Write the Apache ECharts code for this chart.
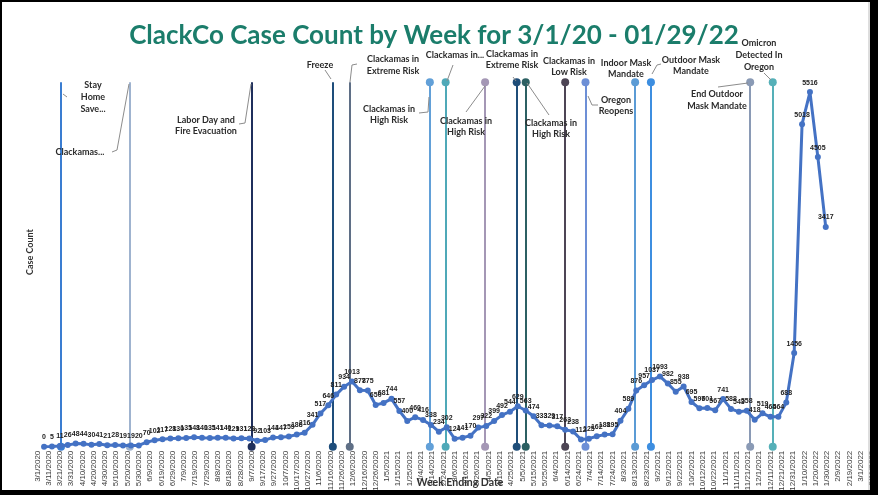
<!DOCTYPE html>
<html><head><meta charset="utf-8">
<script src="https://cdn.jsdelivr.net/npm/echarts@6/dist/echarts.min.js"></script>
<style>html,body{margin:0;padding:0;background:#fff}#c{width:878px;height:495px}</style>
</head><body><div id="c"></div><script>
// ---------- data ----------
const axisStart = '2020-03-01';
const axisEnd = '2022-03-11';
const tickDays = 10;
const firstWeekEnding = '2020-03-07';
const caseCounts = [
  0, 5, 11, 26, 48, 44, 30, 41, 21, 28,
  19, 19, 20, 70, 102, 117, 128, 130, 135, 148,
  140, 135, 141, 140, 129, 131, 128, 92, 103, 144,
  147, 159, 188, 216, 341, 517, 646, 811, 934, 1013,
  877, 875, 650, 681, 744, 557, 400, 460, 416, 338,
  234, 302, 124, 141, 170, 297, 322, 399, 492, 544,
  629, 563, 474, 333, 329, 317, 263, 238, 112, 125,
  162, 188, 195, 404, 589, 876, 957, 1037, 1093, 982,
  855, 938, 695, 597, 601, 567, 741, 588, 543, 558,
  418, 519, 465, 464, 688, 1456, 5018, 5516, 4505, 3417
];
const eventDates = ['2020-03-22','2020-05-22','2020-09-07','2020-11-18','2020-12-03','2021-02-12','2021-02-26','2021-04-02','2021-04-30','2021-05-08','2021-06-12','2021-06-30','2021-08-13','2021-08-27','2021-11-23','2021-12-13'];
const eventNames = ['Stay\nHome\nSave...','Clackamas...','Labor Day and\nFire Evacuation','Freeze','Clackamas in\nExtreme Risk','Clackamas in\nHigh Risk','Clackamas in...','Clackamas in\nHigh Risk','Clackamas in\nExtreme Risk','Clackamas in\nHigh Risk','Clackamas in\nLow Risk','Oregon\nReopens','Indoor Mask\nMandate','Outdoor Mask\nMandate','End Outdoor\nMask Mandate','Omicron\nDetected In\nOregon'];
const eventLineTop = 5670;
const yMax = 6000;

// ---------- styles ----------
const eventColors = ['#3a7dd1','#9fb3cf','#1f2f5c','#1e4d7b','#5f6f86','#62a0d8','#4fa9b8','#a497b5','#1f4e79','#2c6063','#4d4555','#6d8fd6','#5b9bd5','#3d8ee0','#8a9ab5','#55b0b8'];
const eventTopDot = [false,false,false,false,false,true,true,true,true,true,true,true,true,true,true,true];
// annotation placement: [centerX, centerY, lineHeight]
const notePos = [[93,97,12],[80,152,11],[206,125.5,11],[320,65,11],[393,65,11.5],[389,114.7,11],[455,55,11],[466,126.7,11],[512,60,11],[551,128.7,11],[569,66.7,11.5],[616,105.3,11],[626,68.8,11],[691,65.8,11.5],[717,100,12],[759,55,11.7]];
const leaders = [
  [[63,94],[67,97]],
  [[112,152],[117,150],[129,84]],
  [[239,124],[245,123],[251,84]],
  [[325,70],[331,79]],
  [[350,82],[352,65],[357,64]],
  [[419,113],[428,112],[429,97]],
  [[453,65],[447,81]],
  [[466,112],[485,86]],
  [[513,77],[516,81]],
  [[527,83],[549,115]],
  [[588,96],[592,105],[598,105]],
  [[652,74],[657,65],[661,64]],
  [[718,87],[748,83]],
  [[764,73],[771,80]]
];

function dayOf(s){ return Math.round((Date.parse(s+'T00:00:00Z') - Date.parse(axisStart+'T00:00:00Z'))/86400000); }
function fmt(v){ const d = new Date(Date.parse(axisStart+'T00:00:00Z') + v*86400000); return (d.getUTCMonth()+1)+'/'+d.getUTCDate()+'/'+d.getUTCFullYear(); }
const firstDay = dayOf(firstWeekEnding);
const seriesData = caseCounts.map((v,i)=>[firstDay + 7*i, v]);

const markData = eventDates.map((d,i)=>{
  const x = dayOf(d);
  const ls = {color: eventColors[i], width: 2, type:'solid'};
  return [
    {coord:[x,0], symbol:'circle', symbolSize:8, lineStyle: ls, itemStyle:{color:eventColors[i]}},
    {coord:[x,eventLineTop], symbol: eventTopDot[i] ? 'circle' : 'none', symbolSize:8, lineStyle: ls, itemStyle:{color:eventColors[i]}}
  ];
});

const FONT = 'Lato, "Liberation Sans", sans-serif';
const graphics = [];
eventNames.forEach((t,i)=>{
  graphics.push({type:'text', x: notePos[i][0], y: notePos[i][1], z: 50, silent:true,
    style:{text:t, font:'bold 9px '+FONT, fill:'#2b2b2b', textAlign:'center', textVerticalAlign:'middle', lineHeight: notePos[i][2]}});
});
leaders.forEach(p=>{
  graphics.push({type:'polyline', z: 50, silent:true, shape:{points:p}, style:{stroke:'#8c8c8c', lineWidth:1, fill:null}});
});
graphics.push({type:'text', x:434, y:36, z:50, silent:true, style:{text:'ClackCo Case Count by Week for 3/1/20 - 01/29/22', font:'bold 26px '+FONT, fill:'#1b7d6b', textAlign:'center', textVerticalAlign:'middle'}});
graphics.push({type:'text', x:30, y:252, rotation: Math.PI/2, z:50, silent:true, style:{text:'Case Count', font:'bold 9px '+FONT, fill:'#333', textAlign:'center', textVerticalAlign:'middle'}});
graphics.push({type:'text', x:460, y:483, z:50, silent:true, style:{text:'Week Ending Date', font:'bold 10.5px '+FONT, fill:'#333', textAlign:'center', textVerticalAlign:'middle'}});
// black frame
[[0,0,878,2],[0,0,2,495],[870,0,8,495],[0,490,878,5]].forEach(r=>{
  graphics.push({type:'rect', z:100, silent:true, shape:{x:r[0],y:r[1],width:r[2],height:r[3]}, style:{fill:'#000'}});
});
graphics.push({type:'line', z:99, silent:true, shape:{x1:869,y1:2,x2:869,y2:490}, style:{stroke:'#bbb', lineWidth:1}});

const chart = echarts.init(document.getElementById('c'), null, {renderer:'canvas'});
chart.setOption({
  backgroundColor:'#fff',
  animation:false,
  grid:{left:37.3, right:878-872, top:61, bottom:48.3, containLabel:false},
  xAxis:{type:'value', min:0, max:dayOf(axisEnd), interval:tickDays,
    axisLine:{show:false}, axisTick:{show:false}, splitLine:{show:false},
    axisLabel:{rotate:90, fontSize:8, color:'#3a3a3a', margin:4, fontFamily:'"Liberation Sans", sans-serif', formatter: v=>fmt(v)}},
  yAxis:{type:'value', min:0, max:yMax, show:false, splitLine:{show:false}},
  graphic:{elements:graphics},
  series:[{
    type:'line', data:seriesData, symbol:'circle', symbolSize:6, z:5,
    lineStyle:{color:'#4472c4', width:3}, itemStyle:{color:'#4472c4'},
    label:{show:true, position:'top', distance:3, fontSize:7, fontWeight:'bold', color:'#222', fontFamily:'"Liberation Sans", sans-serif'},
    markLine:{silent:true, animation:false, label:{show:false}, emphasis:{disabled:true}, z:3, data: markData}
  }]
});
</script></body></html>
